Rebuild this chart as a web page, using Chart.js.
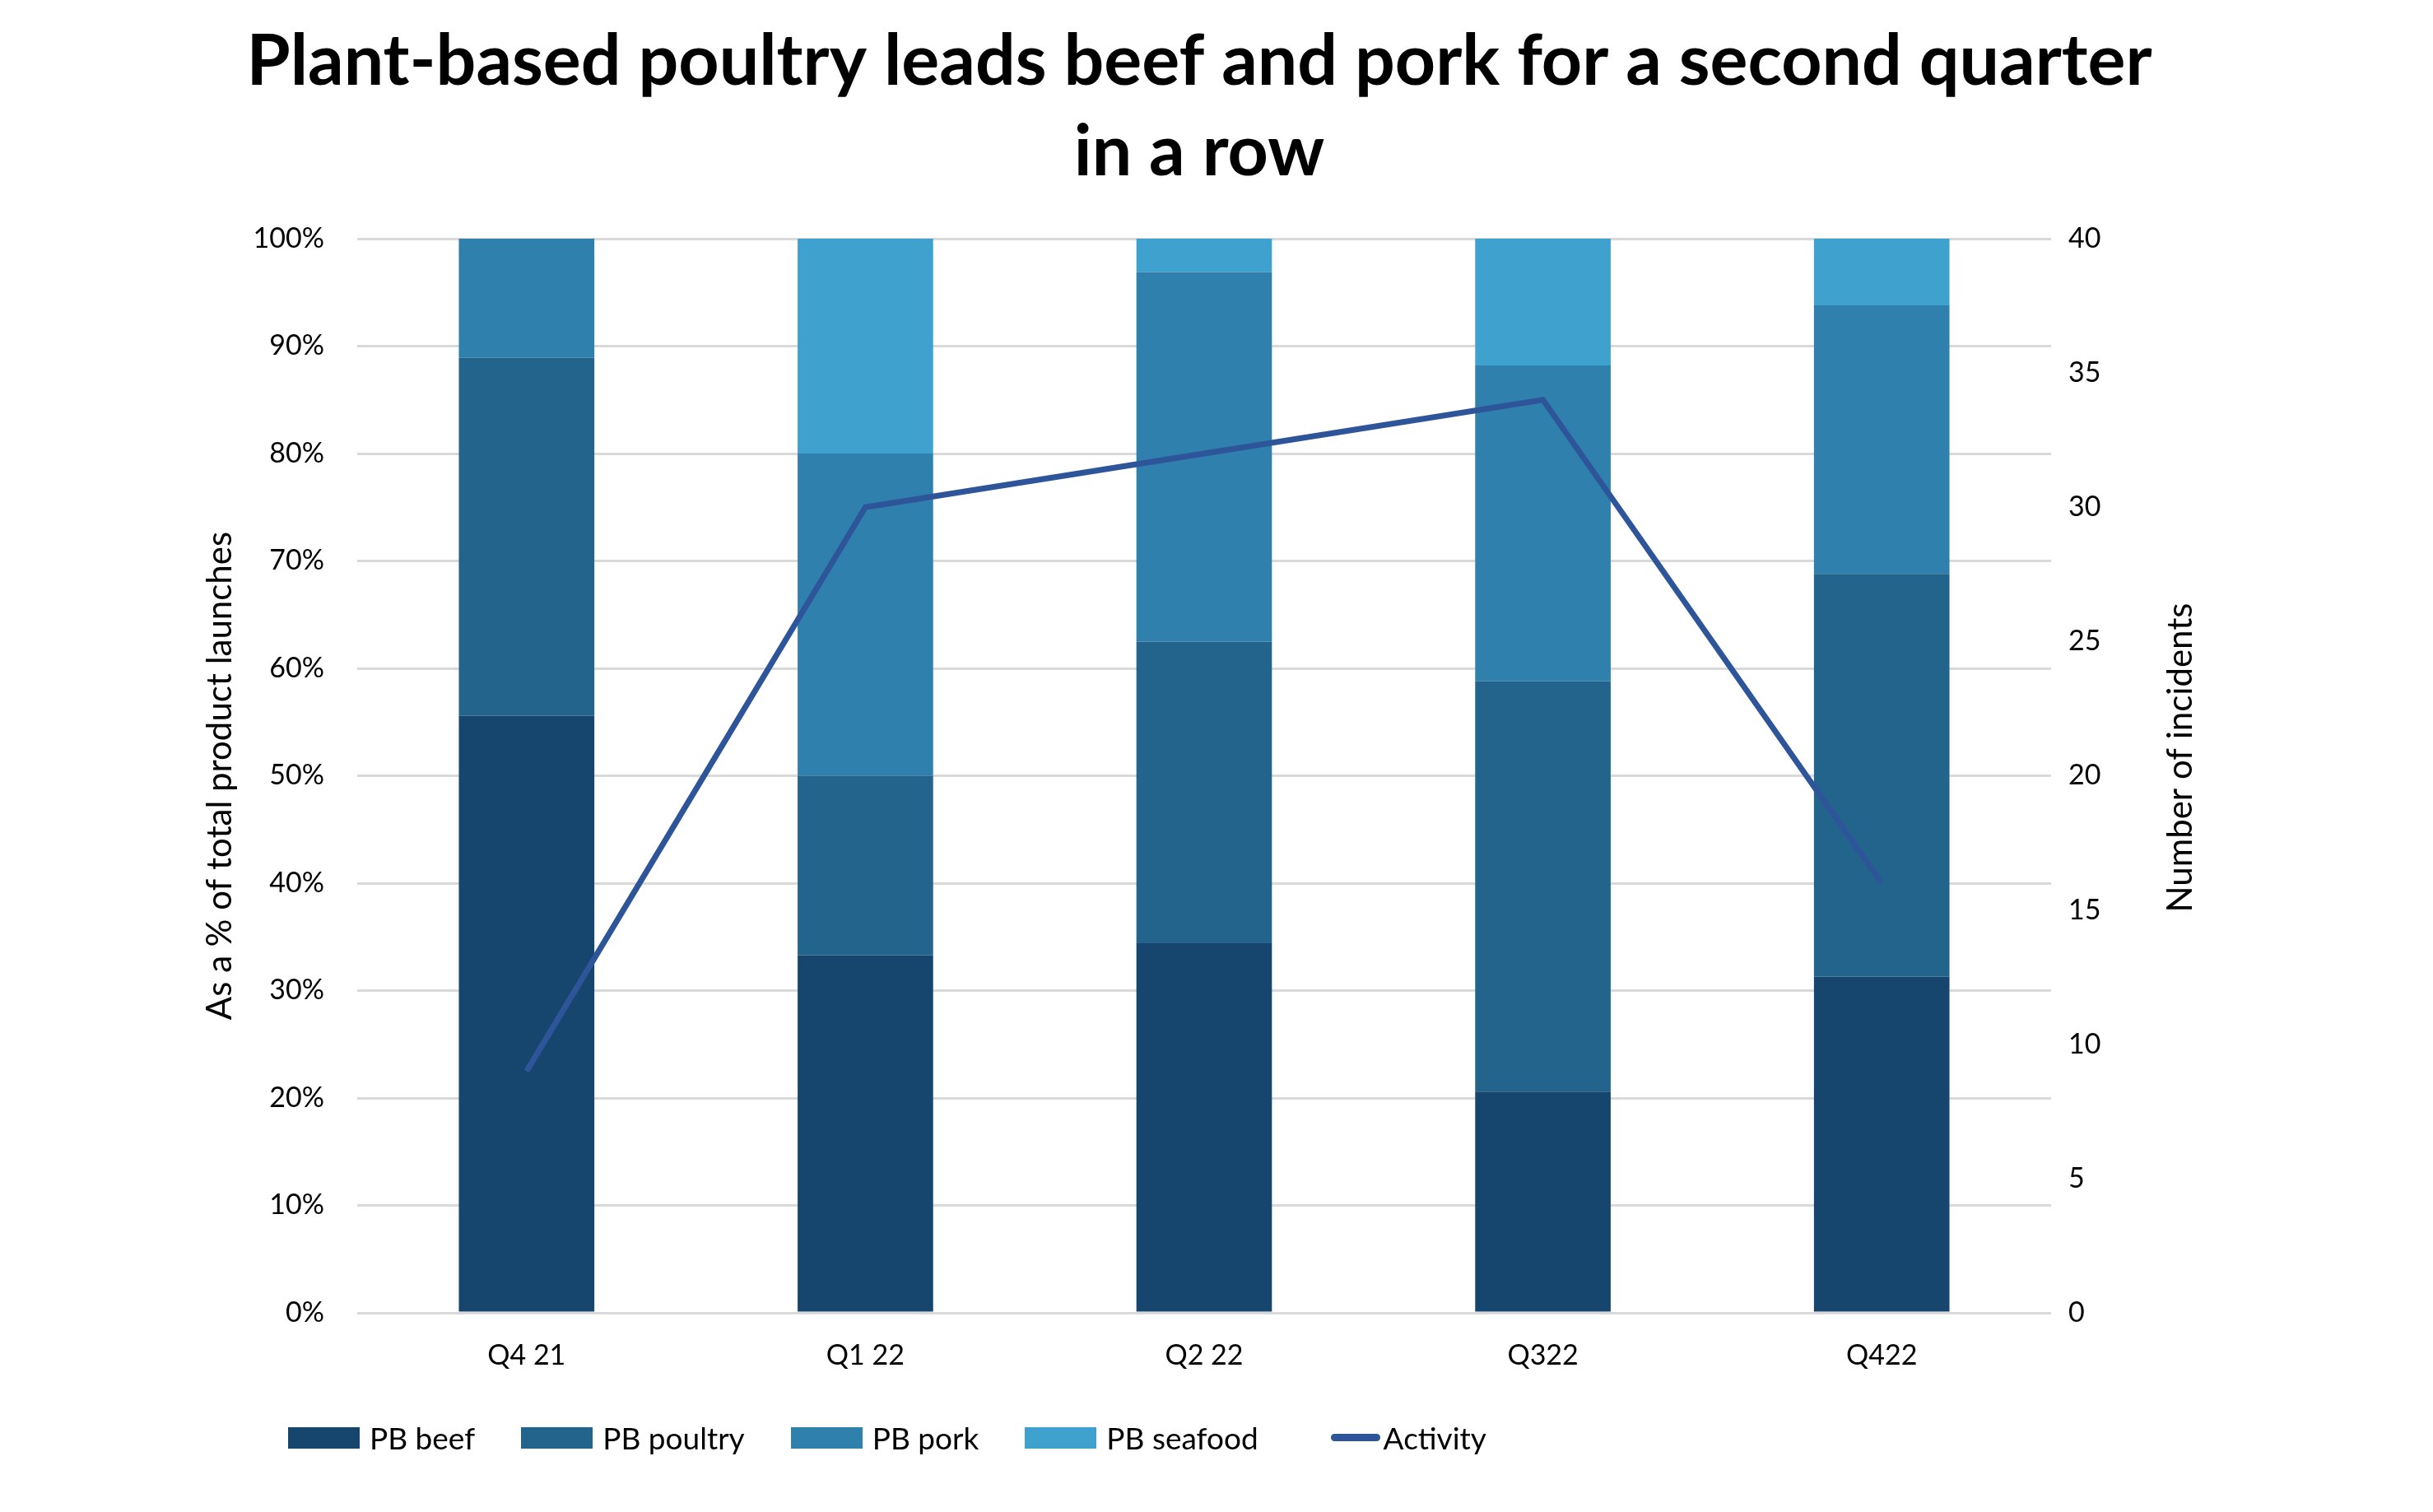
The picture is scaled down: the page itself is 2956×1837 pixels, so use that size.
<!DOCTYPE html>
<html>
<head>
    <meta charset="UTF-8">
    <title>Plant-based poultry leads beef and pork</title>
    <script src="https://cdn.jsdelivr.net/npm/chart.js@4.4.0/dist/chart.umd.min.js"></script>
    <style>
        body { margin: 0; background: #fff; }
        #wrap { position: relative; width: 2956px; height: 1837px; }
        #legend {
            position: absolute; left: 350px; top: 1724px;
            display: flex; align-items: center;
            font-family: Lato, sans-serif; font-size: 37px; color: #000;
        }
        .item { display: flex; align-items: center; margin-right: 56px; }
        .box { width: 87px; height: 26px; margin-right: 12px; }
        .ln { width: 60px; height: 9px; border-radius: 5px; margin-left: 32px; margin-right: 4px; }
    </style>
</head>
<body>
<div id="wrap">
    <canvas id="chart" width="2956" height="1837"></canvas>
    <div id="legend"></div>
</div>
<script>
    // data
    const quarters = ['Q4 21', 'Q1 22', 'Q2 22', 'Q322', 'Q422'];
    const pbBeef = [55.6, 33.3, 34.4, 20.6, 31.3];
    const pbPoultry = [33.3, 16.7, 28.1, 38.2, 37.5];
    const pbPork = [11.1, 30.0, 34.4, 29.4, 25.0];
    const pbSeafood = [0, 20.0, 3.1, 11.8, 6.2];
    const activity = [9, 30, 32, 34, 16];

    const colors = {
        beef: '#16466E',
        poultry: '#23648C',
        pork: '#2F80AC',
        seafood: '#3FA1CE',
        activity: '#2E559A'
    };

    const font = 'Lato';
    const rightTitle = 'Number of incidents';

    const barSet = (label, data, color) => ({
        type: 'bar',
        label: label,
        data: data,
        backgroundColor: color,
        borderWidth: 0,
        barPercentage: 0.4,
        categoryPercentage: 1,
        yAxisID: 'y',
        order: 2
    });

    // right axis title reads bottom-to-top, so draw it ourselves
    const rightTitlePlugin = {
        id: 'rightTitle',
        afterDraw(chart) {
            const c = chart.ctx;
            const area = chart.chartArea;
            c.save();
            c.translate(2649, (area.top + area.bottom) / 2 - 22);
            c.rotate(-Math.PI / 2);
            c.font = '42px ' + font;
            c.fillStyle = '#000';
            c.textAlign = 'center';
            c.textBaseline = 'middle';
            c.fillText(rightTitle, 0, 0);
            c.restore();
        }
    };

    const ctx = document.getElementById('chart').getContext('2d');
    const chart = new Chart(ctx, {
        data: {
            labels: quarters,
            datasets: [
                barSet('PB beef', pbBeef, colors.beef),
                barSet('PB poultry', pbPoultry, colors.poultry),
                barSet('PB pork', pbPork, colors.pork),
                barSet('PB seafood', pbSeafood, colors.seafood),
                {
                    type: 'line',
                    label: 'Activity',
                    data: activity,
                    borderColor: colors.activity,
                    backgroundColor: colors.activity,
                    borderWidth: 7,
                    pointRadius: 0,
                    tension: 0,
                    fill: false,
                    yAxisID: 'y1',
                    order: 1
                }
            ]
        },
        options: {
            responsive: false,
            animation: false,
            devicePixelRatio: 1,
            layout: { padding: { left: 0, top: 0, bottom: 0, right: 42 } },
            plugins: {
                legend: { display: false },
                tooltip: { enabled: false },
                title: {
                    display: true,
                    text: ['Plant-based poultry leads beef and pork for a second quarter', 'in a row'],
                    color: '#000',
                    font: { family: font, weight: 'bold', size: 86, lineHeight: 110 / 86 },
                    padding: { top: 20, bottom: 50 }
                }
            },
            scales: {
                x: {
                    stacked: true,
                    grid: { display: false, drawTicks: false },
                    border: { display: false },
                    ticks: { color: '#000', font: { family: font, size: 34 }, padding: 32 },
                    afterFit: s => { s.height = 242; }
                },
                y: {
                    stacked: true,
                    position: 'left',
                    min: 0,
                    max: 100,
                    ticks: {
                        stepSize: 10,
                        color: '#000',
                        font: { family: font, size: 34 },
                        padding: 40,
                        callback: v => v + '%'
                    },
                    grid: { color: '#D9D9D9', lineWidth: 3, drawTicks: false },
                    border: { display: false },
                    title: {
                        display: true,
                        text: 'As a % of total product launches',
                        color: '#000',
                        font: { family: font, size: 42 },
                        padding: { top: 242, bottom: 0 }
                    },
                    afterFit: s => { s.width = 434; }
                },
                y1: {
                    position: 'right',
                    stacked: false,
                    min: 0,
                    max: 40,
                    ticks: {
                        stepSize: 5,
                        color: '#000',
                        font: { family: font, size: 34 },
                        padding: 21
                    },
                    grid: { display: false, drawTicks: false },
                    border: { display: false },
                    afterFit: s => { s.width = 422; }
                }
            }
        },
        plugins: [rightTitlePlugin]
    });

    // legend below the chart, built from the datasets
    const legend = document.getElementById('legend');
    chart.data.datasets.forEach(ds => {
        const item = document.createElement('div');
        item.className = 'item';
        const mark = document.createElement('span');
        mark.className = ds.type === 'line' ? 'ln' : 'box';
        mark.style.background = ds.type === 'line' ? ds.borderColor : ds.backgroundColor;
        const text = document.createElement('span');
        text.textContent = ds.label;
        item.appendChild(mark);
        item.appendChild(text);
        legend.appendChild(item);
    });
</script>
</body>
</html>
